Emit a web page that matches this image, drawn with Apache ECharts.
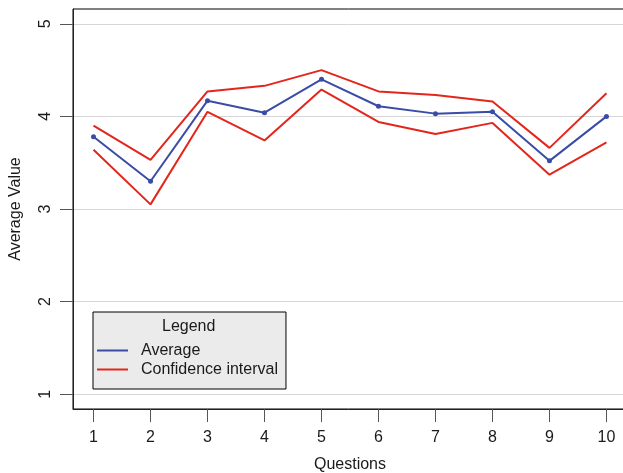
<!DOCTYPE html>
<html>
<head>
<meta charset="utf-8">
<script src="https://cdn.jsdelivr.net/npm/echarts@6/dist/echarts.min.js"></script>
<style>html,body{margin:0;padding:0;background:#fff;}#c{width:623px;height:473px;}</style>
</head>
<body>
<div id="c"></div>
<script>
var questions = [1, 2, 3, 4, 5, 6, 7, 8, 9, 10];
var average = [3.78, 3.30, 4.17, 4.04, 4.40, 4.11, 4.03, 4.05, 3.52, 4.00];
var upperCI = [3.90, 3.53, 4.27, 4.33, 4.50, 4.27, 4.23, 4.16, 3.66, 4.25];
var lowerCI = [3.64, 3.05, 4.05, 3.74, 4.29, 3.94, 3.81, 3.93, 3.37, 3.72];
var yTicks = [1, 2, 3, 4, 5];

function pairs(vals) { return questions.map(function (q, i) { return [q, vals[i]]; }); }

var FONT = 'Liberation Sans, Arial, sans-serif';
var chart = echarts.init(document.getElementById('c'), null, { renderer: 'canvas' });
chart.setOption({
  animation: false,
  backgroundColor: '#ffffff',
  textStyle: { fontFamily: FONT },
  grid: { left: 73, top: 9, width: 554, height: 400, show: true, borderColor: '#000', borderWidth: 1, containLabel: false, outerBoundsMode: 'none' },
  xAxis: {
    type: 'value', min: 0.64, max: 10.36,
    name: 'Questions', nameLocation: 'middle', nameGap: 48,
    nameTextStyle: { fontSize: 16, color: '#1a1a1a', fontFamily: FONT },
    axisLine: { show: true, onZero: false, lineStyle: { color: '#222', width: 1 } },
    axisTick: { show: true, length: 13, customValues: questions, lineStyle: { color: '#555', width: 1 } },
    axisLabel: { customValues: questions, margin: 21, fontSize: 16, color: '#1a1a1a', fontFamily: FONT },
    splitLine: { show: false }
  },
  yAxis: {
    type: 'value', min: 0.84, max: 5.16,
    name: 'Average Value', nameLocation: 'middle', nameGap: 49, nameRotate: 90,
    nameTextStyle: { fontSize: 16, color: '#1a1a1a', fontFamily: FONT },
    axisLine: { show: true, onZero: false, lineStyle: { color: '#222', width: 1 } },
    axisTick: { show: true, length: 13, customValues: yTicks, lineStyle: { color: '#555', width: 1 } },
    axisLabel: { customValues: yTicks, rotate: 90, margin: 19, fontSize: 16, color: '#1a1a1a', fontFamily: FONT },
    splitLine: { show: true, lineStyle: { color: '#d6d6d6', width: 1 } }
  },
  legend: {
    orient: 'vertical', left: 93, top: 312,
    data: ['Average', 'Confidence interval'],
    icon: 'rect', itemWidth: 31, itemHeight: 2, itemGap: 0,
    padding: [29, 8, 10, 4],
    backgroundColor: '#ebebeb', borderColor: '#000', borderWidth: 1, borderRadius: 0,
    textStyle: { fontSize: 16, color: '#1a1a1a', fontFamily: FONT, lineHeight: 19, padding: [0, 0, 0, 8] },
    selectedMode: false
  },
  graphic: [{
    type: 'text', left: 189 - 27, top: 319, z: 100,
    style: { text: 'Legend', fontSize: 16, fontFamily: FONT, fill: '#1a1a1a' }
  }],
  series: [
    { name: 'Confidence interval', type: 'line', data: pairs(upperCI), symbol: 'none', lineStyle: { color: '#e3261c', width: 2 }, itemStyle: { color: '#e3261c' } },
    { name: 'Confidence interval', type: 'line', data: pairs(lowerCI), symbol: 'none', lineStyle: { color: '#e3261c', width: 2 }, itemStyle: { color: '#e3261c' } },
    { name: 'Average', type: 'line', data: pairs(average), symbol: 'circle', symbolSize: 5, lineStyle: { color: '#3a4ca6', width: 2 }, itemStyle: { color: '#3a4ca6' }, z: 3 }
  ]
});
</script>
</body>
</html>
